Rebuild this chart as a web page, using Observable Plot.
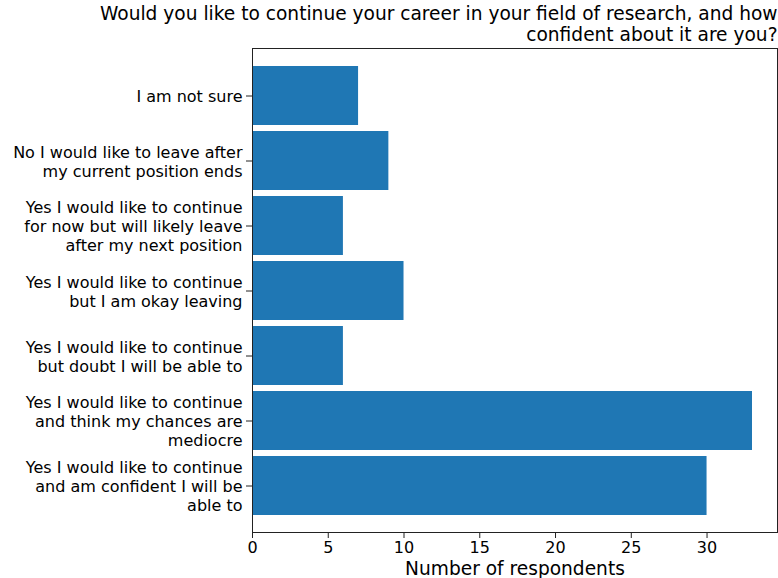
<!DOCTYPE html>
<html>
<head>
<meta charset="utf-8">
<script src="https://cdn.jsdelivr.net/npm/d3@7"></script>
<script src="https://cdn.jsdelivr.net/npm/@observablehq/plot@0.6"></script>
<style>
  body { margin: 0; background: #fff; }
  #chart svg { display: block; }
</style>
</head>
<body>
<div id="chart"></div>
<script>
const titleText = "Would you like to continue your career in your field of research, and how\nconfident about it are you?";
const xLabel = "Number of respondents";

const categories = [
  "I am not sure",
  "No I would like to leave after\nmy current position ends",
  "Yes I would like to continue\nfor now but will likely leave\nafter my next position",
  "Yes I would like to continue\nbut I am okay leaving",
  "Yes I would like to continue\nbut doubt I will be able to",
  "Yes I would like to continue\nand think my chances are\nmediocre",
  "Yes I would like to continue\nand am confident I will be\nable to"
];
const counts = [7, 9, 6, 10, 6, 33, 30];
const xTicks = [0, 5, 10, 15, 20, 25, 30];

const data = categories.map((c, i) => ({category: c, count: counts[i]}));
const font = "DejaVu Sans, sans-serif";

const chart = Plot.plot({
  width: 778,
  height: 578,
  marginLeft: 252,
  marginRight: 1,
  marginTop: 48,
  marginBottom: 46,
  style: {fontFamily: font, background: "#fff", color: "#000"},
  x: {domain: [0, 34.65], ticks: xTicks},
  y: {domain: categories, paddingInner: 0.1, paddingOuter: 0.22},
  marks: [
    Plot.barX(data, {y: "category", x: "count", fill: "#1f77b4"}),
    Plot.frame({stroke: "#222", strokeWidth: 1}),
    Plot.axisX({ticks: xTicks, tickSize: 6, tickPadding: 3, fontSize: 16, label: null, stroke: "#222"}),
    Plot.axisY({tickSize: 6, tickPadding: 4, fontSize: 16, lineHeight: 1.2, label: null, stroke: "#222", tickFormat: d => d}),
    Plot.text([xLabel], {frameAnchor: "bottom", dy: 37, lineAnchor: "middle", fontSize: 18.6, text: d => d, fill: "#000"}),
    Plot.text([titleText], {frameAnchor: "top-right", textAnchor: "end", lineAnchor: "bottom", dy: -8, fontSize: 18.6, lineHeight: 1.08, text: d => d, fill: "#000"})
  ]
});
document.getElementById("chart").appendChild(chart);
</script>
</body>
</html>
